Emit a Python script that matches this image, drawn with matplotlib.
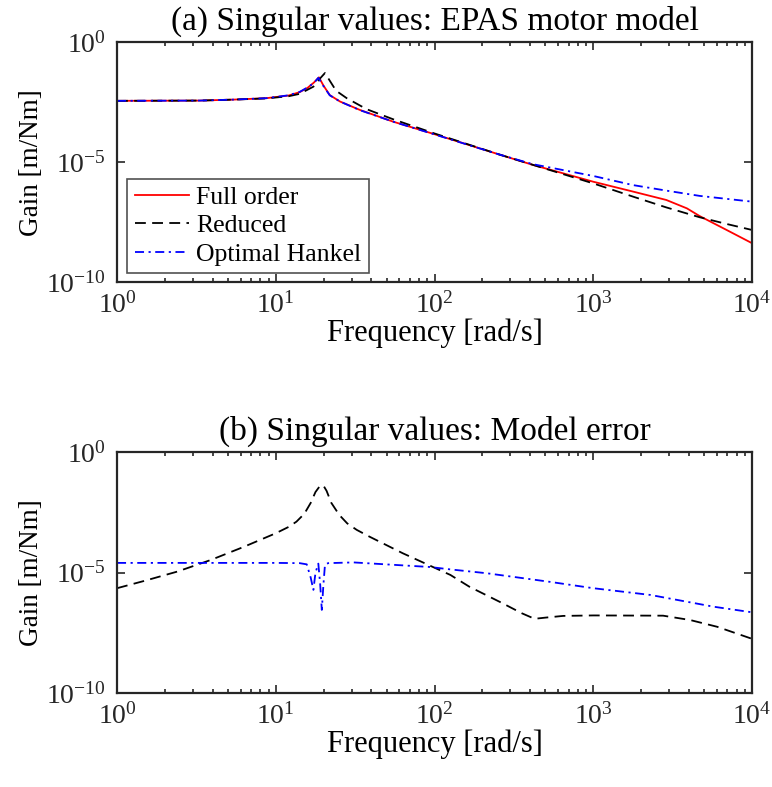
import numpy as np
import matplotlib
matplotlib.use("Agg")
import matplotlib.pyplot as plt
from matplotlib.ticker import LogLocator, NullLocator

plt.rcParams['font.family'] = ['Liberation Serif', 'DejaVu Serif']
plt.rcParams['mathtext.fontset'] = 'custom'
plt.rcParams['mathtext.rm'] = 'Liberation Serif'
plt.rcParams['mathtext.it'] = 'Liberation Serif:italic'
plt.rcParams['mathtext.bf'] = 'Liberation Serif:bold'
plt.rcParams['axes.unicode_minus'] = False

# values, stored as log10(frequency) and log10(gain)
# (a) EPAS motor model
full_logf = [0, 0.52, 0.73, 0.94, 1.08, 1.15, 1.20, 1.24, 1.272, 1.30, 1.34, 1.405, 1.53, 1.74, 2.0,
             2.41, 2.62, 3.0, 3.25, 3.46, 3.59, 3.67, 3.84, 4.0]
full_logg = [-2.44, -2.43, -2.39, -2.33, -2.22, -2.08, -1.90, -1.68, -1.46, -1.80, -2.20, -2.47, -2.82, -3.31, -3.83,
             -4.68, -5.11, -5.81, -6.22, -6.57, -6.92, -7.24, -7.82, -8.37]

red_logf = [0, 0.52, 0.73, 0.94, 1.08, 1.15, 1.237, 1.28, 1.31, 1.34, 1.38, 1.447, 1.573, 1.74, 2.0,
            2.41, 3.0, 3.25, 3.46, 3.67, 3.84, 4.0]
red_logg = [-2.44, -2.43, -2.39, -2.34, -2.25, -2.15, -1.85, -1.50, -1.28, -1.60, -2.02, -2.33, -2.79, -3.21, -3.80,
            -4.68, -5.88, -6.43, -6.88, -7.29, -7.57, -7.82]

hank_logf = [0, 0.52, 0.73, 0.94, 1.08, 1.15, 1.20, 1.24, 1.268, 1.30, 1.34, 1.405, 1.53, 1.74, 2.0,
             2.41, 2.62, 3.0, 3.25, 3.46, 3.67, 4.0]
hank_logg = [-2.44, -2.43, -2.39, -2.33, -2.21, -2.07, -1.88, -1.70, -1.48, -1.82, -2.21, -2.47, -2.83, -3.31, -3.84,
             -4.68, -5.08, -5.57, -5.95, -6.18, -6.40, -6.64]

# (b) model error
err_red_logf = [0, 0.17, 0.38, 0.59, 0.80, 1.0, 1.08, 1.13, 1.18, 1.22, 1.25, 1.28, 1.30, 1.32, 1.35,
                1.40, 1.45, 1.51, 1.59, 1.80, 2.0, 2.10, 2.22, 2.43, 2.55, 2.63, 2.70, 2.81, 3.0,
                3.44, 3.61, 3.78, 4.0]
err_red_logg = [-5.64, -5.34, -4.95, -4.47, -3.92, -3.36, -3.10, -2.88, -2.55, -2.10, -1.65, -1.38, -1.38, -1.60, -2.10,
                -2.60, -2.95, -3.22, -3.50, -4.19, -4.79, -5.09, -5.58, -6.27, -6.68, -6.91, -6.86, -6.79, -6.77,
                -6.78, -6.96, -7.24, -7.74]

err_hank_logf = [0, 0.5, 1.0, 1.15, 1.195, 1.22, 1.237, 1.25, 1.268, 1.28, 1.29, 1.30, 1.31,
                 1.33, 1.49, 1.97, 2.10, 2.33, 2.72, 3.0, 3.36, 3.76, 4.0]
err_hank_logg = [-4.59, -4.59, -4.59, -4.60, -4.65, -5.20, -5.71, -5.00, -4.62, -5.50, -6.54, -5.50, -4.66,
                 -4.60, -4.57, -4.76, -4.86, -5.02, -5.37, -5.64, -5.92, -6.41, -6.64]

labels = ["Full order", "Reduced", "Optimal Hankel"]
titles = ["(a) Singular values: EPAS motor model", "(b) Singular values: Model error"]

fig = plt.figure(figsize=(7.72, 7.87), dpi=100)
ax1 = fig.add_axes([0.1516, 0.6413, 0.8225, 0.305])
ax2 = fig.add_axes([0.1516, 0.1191, 0.8225, 0.3062])


def pw(v):
    return 10.0 ** np.asarray(v)


ax1.plot(pw(full_logf), pw(full_logg), color='#ff0000', lw=1.3, label=labels[0])
l2, = ax1.plot(pw(red_logf), pw(red_logg), color='black', lw=1.3, label=labels[1])
l2.set_dashes([6, 3.5])
l3, = ax1.plot(pw(hank_logf), pw(hank_logg), color='#0000ff', lw=1.3, label=labels[2])
l3.set_dashes([5, 2.5, 1.2, 2.5])

l4, = ax2.plot(pw(err_red_logf), pw(err_red_logg), color='black', lw=1.3)
l4.set_dashes([6, 3.5])
l5, = ax2.plot(pw(err_hank_logf), pw(err_hank_logg), color='#0000ff', lw=1.3)
l5.set_dashes([5, 2.5, 1.2, 2.5])

for ax, title in zip([ax1, ax2], titles):
    ax.set_xscale('log')
    ax.set_yscale('log')
    ax.set_xlim(1, 1e4)
    ax.set_ylim(1e-10, 1)
    ax.set_yticks([1e-10, 1e-5, 1])
    ax.yaxis.set_minor_locator(NullLocator())
    ax.xaxis.set_major_locator(LogLocator(base=10, numticks=10))
    ax.xaxis.set_minor_locator(LogLocator(base=10, subs=np.arange(2, 10), numticks=20))
    ax.tick_params(which='both', direction='in', top=True, right=True,
                   labelsize=20, colors='#262626', width=1.2)
    ax.tick_params(axis='x', pad=7)
    ax.tick_params(axis='y', pad=8)
    ax.tick_params(which='major', length=5.5)
    ax.tick_params(which='minor', length=3)
    for s in ax.spines.values():
        s.set_linewidth(1.6)
        s.set_color('#262626')
    ax.set_title(title, fontsize=24, pad=9)
    ax.set_xlabel("Frequency [rad/s]", fontsize=22, labelpad=0)
    ax.set_ylabel("Gain [m/Nm]", fontsize=19.5, labelpad=2)

leg = ax1.legend(loc='lower left', bbox_to_anchor=(0.0157, 0.0375), borderaxespad=0,
                 fontsize=18.5, frameon=True, fancybox=False, edgecolor='#262626',
                 handlelength=2.1, handletextpad=0.3, labelspacing=0.2, borderpad=0.3)
leg.get_frame().set_linewidth(1.2)

fig.savefig("out.png", dpi=100)
